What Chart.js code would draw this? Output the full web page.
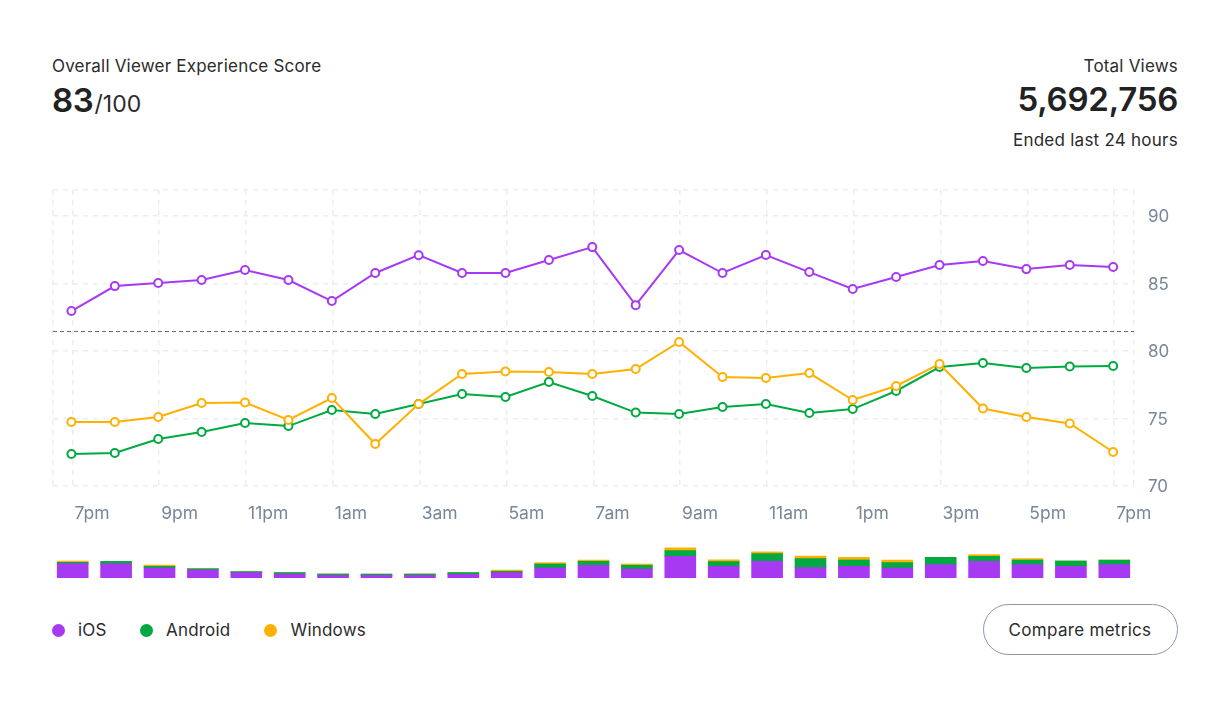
<!DOCTYPE html>
<html><head><meta charset="utf-8">
<script src="https://cdn.jsdelivr.net/npm/chart.js@4"></script>
<style>
html,body{margin:0;padding:0;background:#fff;width:1232px;height:708px;overflow:hidden;font-family:Inter,sans-serif;color:#2b2b2b}
.t{position:absolute;white-space:nowrap;line-height:1;letter-spacing:.2px}
canvas{position:absolute}
.dot{position:absolute;width:13px;height:13px;border-radius:50%;top:623.5px}
#btn{position:absolute;left:982.5px;top:603.5px;width:193px;height:49.5px;border:1.5px solid #8c98a8;border-radius:26px;font-size:17px;line-height:51px;letter-spacing:.3px;text-align:center;color:#2b2b2b}
</style></head><body>
<div class="t" style="left:52px;top:58px;font-size:17px">Overall Viewer Experience Score</div>
<div class="t" style="left:52px;top:84px;font-size:33px;font-weight:600;letter-spacing:-.3px;color:#222">83<span style="font-size:23px;font-weight:400;margin-left:1px;letter-spacing:0;color:#2b2b2b">/100</span></div>
<div class="t" style="right:54px;top:58px;font-size:17px">Total Views</div>
<div class="t" style="right:54px;top:83px;font-size:33px;font-weight:600;letter-spacing:-.25px;color:#222">5,692,756</div>
<div class="t" style="right:54px;top:132px;font-size:17px;letter-spacing:.25px">Ended last 24 hours</div>
<canvas id="line" style="left:40px;top:180px;width:1150px;height:350px"></canvas>
<canvas id="bars" style="left:50.8px;top:538px;width:1085.5px;height:40px"></canvas>
<span class="dot" style="left:52px;background:#a839f2"></span><div class="t" style="left:78px;top:622px;font-size:17px">iOS</div>
<span class="dot" style="left:140px;background:#00a942"></span><div class="t" style="left:166px;top:622px;font-size:17px">Android</div>
<span class="dot" style="left:264px;background:#ffb000"></span><div class="t" style="left:290.5px;top:622px;font-size:17px">Windows</div>
<div id="btn">Compare metrics</div>
<script>
const tickLabels=['7pm','9pm','11pm','1am','3am','5am','7am','9am','11am','1pm','3pm','5pm','7pm'];
const hours=['7pm','8pm','9pm','10pm','11pm','12am','1am','2am','3am','4am','5am','6am','7am','8am','9am','10am','11am','12pm','1pm','2pm','3pm','4pm','5pm','6pm','7pm'];
const ios=[82.96,84.81,85.04,85.26,86.0,85.26,83.7,85.78,87.1,85.78,85.78,86.74,87.7,83.4,87.48,85.78,87.11,85.85,84.6,85.48,86.37,86.67,86.07,86.37,86.22];
const android=[72.37,72.44,73.48,74.0,74.67,74.44,75.63,75.33,76.07,76.81,76.59,77.7,76.67,75.44,75.33,75.85,76.07,75.41,75.7,77.04,78.81,79.11,78.74,78.85,78.89];
const windows=[74.74,74.74,75.11,76.15,76.19,74.89,76.52,73.11,76.07,78.3,78.48,78.44,78.3,78.67,80.67,78.07,78.0,78.37,76.37,77.41,79.04,75.74,75.11,74.63,72.52];
const average=[81.45,81.45];
const yTicks=[70,75,80,85,90];
const iosViews=[14.3,14.3,10,8,5.3,4,2.7,2.7,2.7,3.7,5.3,10,12.7,9,21.7,11.7,16.7,10.3,11.7,10,13.3,16.7,13.3,11.7,13.3];
const androidViews=[1.3,2.3,1.7,1.3,1,1.3,1.3,1.3,1.3,1.7,1.3,4,4,3.7,5.7,4.7,7.7,9,6.3,5.3,7.3,5,4.7,5.3,4.7];
const windowsViews=[1.3,0,1.3,0,0,0,0,0,0,0,1.3,1.3,1.3,1.3,2.7,1.7,1.7,2.7,2.7,2.7,0,1.7,1.3,0,0];
const PURPLE='#a839f2',GREEN='#00a942',ORANGE='#ffb000',GRID='#ebedf0',AXIS='#78869a';
const X_MIN=-0.424,X_MAX=24.48,Y_MAX=91.93,GRID_SHIFT=0.023;
const pts=a=>a.map((v,i)=>({x:i,y:v}));
const ser=(label,a,c)=>({label,data:pts(a),borderColor:c,backgroundColor:'#fff',borderWidth:2,pointRadius:4,pointHoverRadius:4,pointBorderWidth:2,pointBackgroundColor:'#fff',pointBorderColor:c,tension:0});
const noPad=s=>{s.paddingTop=0;s.paddingBottom=0;s.paddingLeft=0;s.paddingRight=0};
new Chart(document.getElementById('line'),{type:'line',
 data:{datasets:[
  {label:'Average',data:[{x:X_MIN,y:average[0]},{x:X_MAX,y:average[1]}],borderColor:'#5f6b7a',borderWidth:1,borderDash:[4,3],pointRadius:0},
  ser('Windows',windows,ORANGE),ser('Android',android,GREEN),ser('iOS',ios,PURPLE)]},
 options:{responsive:false,animation:false,devicePixelRatio:1,
  layout:{padding:{left:13,top:10,right:0,bottom:0}},
  plugins:{legend:{display:false},tooltip:{enabled:false}},
  scales:{
   x:{type:'linear',min:X_MIN,max:X_MAX,border:{display:false,dash:[5,5]},
    afterBuildTicks:s=>{s.ticks=[{value:X_MIN},...tickLabels.map((_,i)=>({value:i*2+GRID_SHIFT})),{value:X_MAX}]},
    afterFit:s=>{s.height=44;noPad(s)},
    grid:{color:GRID,lineWidth:1.5,drawTicks:false},
    ticks:{autoSkip:false,maxRotation:0,align:'start',labelOffset:2,padding:17,color:AXIS,font:{family:'Inter',size:17.5},
     callback:(v,i)=>tickLabels[i-1]??''}},
   y:{position:'right',min:70,max:Y_MAX,border:{display:false,dash:[5,5]},
    afterBuildTicks:s=>{s.ticks=[...yTicks.map(v=>({value:v})),{value:Y_MAX}]},
    afterFit:s=>{s.width=56;noPad(s)},
    grid:{color:GRID,lineWidth:1.5,drawTicks:false},
    ticks:{autoSkip:false,padding:14,labelOffset:1,color:AXIS,font:{family:'Inter',size:17},
     callback:v=>yTicks.includes(v)?String(v):''}}
  }}});
const bar=(label,d,c)=>({label,data:d,backgroundColor:c,barThickness:31,stack:'a',borderWidth:0});
new Chart(document.getElementById('bars'),{type:'bar',
 data:{labels:hours,datasets:[bar('iOS',iosViews,PURPLE),bar('Android',androidViews,GREEN),bar('Windows',windowsViews,ORANGE)]},
 options:{responsive:false,animation:false,devicePixelRatio:1,
  plugins:{legend:{display:false},tooltip:{enabled:false}},
  scales:{x:{display:false,stacked:true},y:{display:false,stacked:true,min:0,max:40}}}});
</script>
</body></html>
